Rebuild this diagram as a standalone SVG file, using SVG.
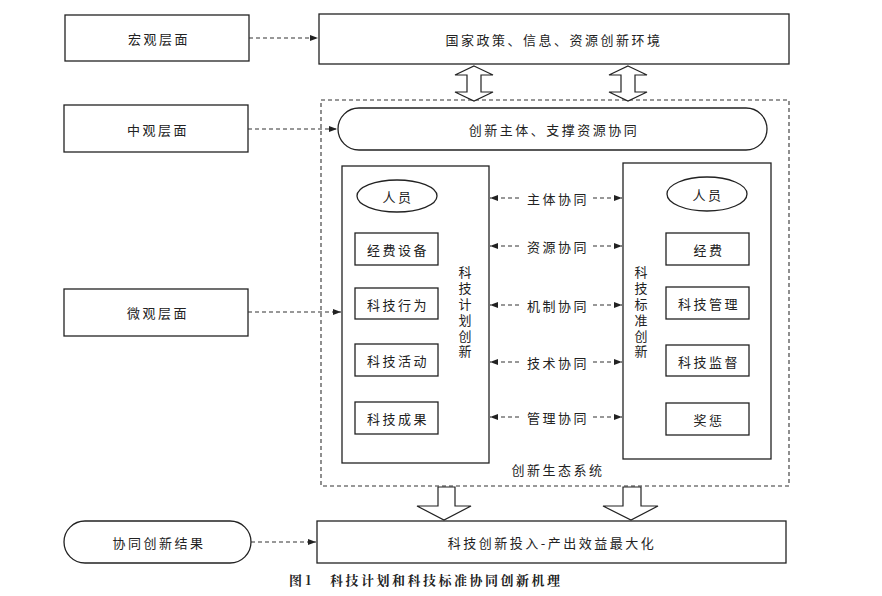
<svg xmlns="http://www.w3.org/2000/svg" width="882" height="596" viewBox="0 0 882 596">
<defs>
<marker id="ah" viewBox="0 0 8 6" refX="8" refY="3" markerWidth="8" markerHeight="6" markerUnits="userSpaceOnUse" orient="auto-start-reverse">
<path d="M0,0 L8,3 L0,6 Z" fill="#222"/>
</marker>
<style>
.b{fill:#fff;stroke:#222;stroke-width:1.3}
.t{font-family:"Noto Sans CJK SC","Noto Sans CJK JP",sans-serif;font-size:13px;fill:#222;text-anchor:middle;dominant-baseline:central;letter-spacing:2.5px}
.v{font-family:"Noto Sans CJK SC","Noto Sans CJK JP",sans-serif;font-size:13px;fill:#222;writing-mode:vertical-rl;text-anchor:start;letter-spacing:2.8px}
.d{fill:none;stroke:#333;stroke-width:1.1;stroke-dasharray:4,3}
.fat{fill:#fff;stroke:#222;stroke-width:1.2}
</style>
</defs>
<rect width="882" height="596" fill="#fff"/>

<g id="macro"><rect class="b" x="65" y="15" width="184" height="46"/><text class="t" x="159" y="38">宏观层面</text></g>
<g id="meso"><rect class="b" x="64" y="105" width="184" height="47"/><text class="t" x="158" y="129">中观层面</text></g>
<g id="micro"><rect class="b" x="64" y="289" width="184" height="47"/><text class="t" x="158" y="312">微观层面</text></g>
<g id="result"><rect class="b" x="64" y="521" width="187" height="42" rx="21"/><text class="t" x="159" y="542">协同创新结果</text></g>

<g id="env"><rect class="b" x="319" y="14" width="470" height="50"/><text class="t" x="554" y="39">国家政策、信息、资源创新环境</text></g>

<g id="ecosystem"><rect x="321" y="100" width="468" height="386" fill="none" stroke="#333" stroke-width="1.1" stroke-dasharray="4,3"/><text class="t" x="558" y="469">创新生态系统</text></g>

<g id="subject"><rect class="b" x="338" y="108" width="429" height="42" rx="21"/><text class="t" x="554" y="129">创新主体、支撑资源协同</text></g>

<g id="plan">
<rect class="b" x="342" y="166" width="147" height="297"/>
<text class="v" x="465" y="266">科技计划创新</text>
</g>
<g id="plan-people"><ellipse class="b" cx="397" cy="196" rx="40" ry="16"/><text class="t" x="398" y="196">人员</text></g>
<g id="plan-fund"><rect class="b" x="355" y="233" width="83" height="32"/><text class="t" x="398" y="249">经费设备</text></g>
<g id="plan-behavior"><rect class="b" x="355" y="288" width="83" height="31"/><text class="t" x="398" y="304">科技行为</text></g>
<g id="plan-activity"><rect class="b" x="355" y="344" width="83" height="32"/><text class="t" x="398" y="360">科技活动</text></g>
<g id="plan-output"><rect class="b" x="355" y="402" width="83" height="32"/><text class="t" x="398" y="418">科技成果</text></g>

<g id="standard">
<rect class="b" x="623" y="163" width="148" height="296"/>
<text class="v" x="641" y="266">科技标准创新</text>
</g>
<g id="std-people"><ellipse class="b" cx="707" cy="194" rx="40" ry="17"/><text class="t" x="708" y="194">人员</text></g>
<g id="std-fund"><rect class="b" x="666" y="233" width="83" height="32"/><text class="t" x="709" y="249">经费</text></g>
<g id="std-mgmt"><rect class="b" x="666" y="287" width="83" height="32"/><text class="t" x="709" y="303">科技管理</text></g>
<g id="std-super"><rect class="b" x="666" y="345" width="83" height="31"/><text class="t" x="709" y="361">科技监督</text></g>
<g id="std-reward"><rect class="b" x="666" y="403" width="83" height="32"/><text class="t" x="709" y="419">奖惩</text></g>

<g id="labels">
<text class="t" x="558" y="198">主体协同</text>
<text class="t" x="558" y="246">资源协同</text>
<text class="t" x="558" y="305">机制协同</text>
<text class="t" x="558" y="362">技术协同</text>
<text class="t" x="558" y="417">管理协同</text>
</g>

<g id="final"><rect class="b" x="317" y="521" width="469" height="42"/><text class="t" x="552" y="542">科技创新投入-产出效益最大化</text></g>

<g id="connectors">
<line class="d" x1="249" y1="38" x2="318" y2="38" marker-end="url(#ah)"/>
<line class="d" x1="248" y1="129" x2="337" y2="129" marker-end="url(#ah)"/>
<line class="d" x1="248" y1="312" x2="341" y2="312" marker-end="url(#ah)"/>
<line class="d" x1="251" y1="542" x2="316" y2="542" marker-end="url(#ah)"/>

<line class="d" x1="519" y1="198" x2="490" y2="198" marker-end="url(#ah)"/>
<line class="d" x1="593" y1="198" x2="622" y2="198" marker-end="url(#ah)"/>
<line class="d" x1="519" y1="246" x2="490" y2="246" marker-end="url(#ah)"/>
<line class="d" x1="593" y1="246" x2="622" y2="246" marker-end="url(#ah)"/>
<line class="d" x1="519" y1="305" x2="490" y2="305" marker-end="url(#ah)"/>
<line class="d" x1="593" y1="305" x2="622" y2="305" marker-end="url(#ah)"/>
<line class="d" x1="519" y1="362" x2="490" y2="362" marker-end="url(#ah)"/>
<line class="d" x1="593" y1="362" x2="622" y2="362" marker-end="url(#ah)"/>
<line class="d" x1="519" y1="417" x2="490" y2="417" marker-end="url(#ah)"/>
<line class="d" x1="593" y1="417" x2="622" y2="417" marker-end="url(#ah)"/>

<path class="fat" d="M474,66 L493,75 L481,75 L481,92 L493,92 L474,101 L455,92 L467,92 L467,75 L455,75 Z"/>
<path class="fat" d="M628,66 L647,75 L635,75 L635,92 L647,92 L628,101 L609,92 L621,92 L621,75 L609,75 Z"/>

<path class="fat" d="M438,487 L455,487 L455,506 L471,506 L444,520 L417,506 L438,506 Z"/>
<path class="fat" d="M623,487 L641,487 L641,506 L658,506 L631,520 L603,506 L623,506 Z"/>
</g>

<text x="289" y="585" style="font-family:'Noto Serif CJK SC','Noto Sans CJK SC',serif;font-size:13px;font-weight:bold;fill:#222">图 1<tspan x="330" style="letter-spacing:2.5px">科技计划和科技标准协同创新机理</tspan></text>
</svg>
